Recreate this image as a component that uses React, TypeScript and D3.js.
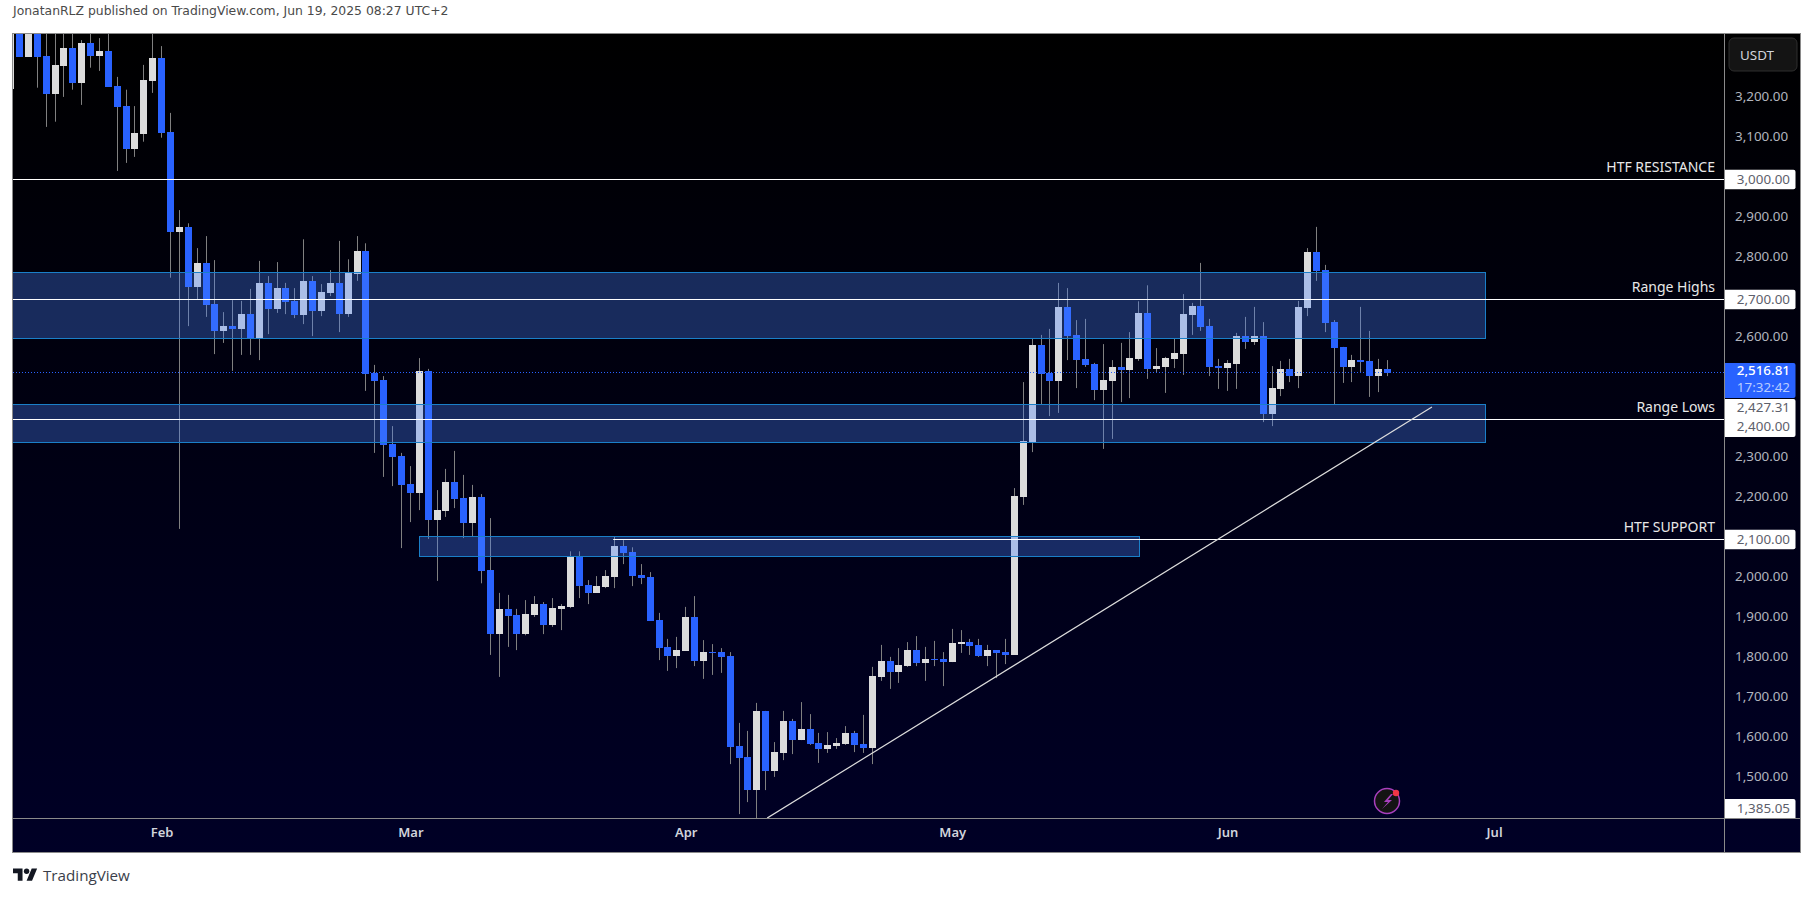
import React, { useRef, useEffect } from 'react';
import * as d3 from 'd3';

// daily candles, first one is Jan 15 (clipped by the left edge of the pane)
const firstDay = new Date(Date.UTC(2025, 0, 15));

const opens = [
  3227, 3400, 3306, 3400, 3308, 3214, 3284, 3328, 3241, 3340,
  3309, 3320, 3234, 3183, 3076, 3114, 3246, 3303, 3118, 2869,
  2880, 2731, 2790, 2688, 2621, 2633, 2626, 2663, 2601, 2741,
  2676, 2728, 2696, 2661, 2746, 2671, 2716, 2741, 2663, 2763,
  2820, 2516, 2498, 2338, 2308, 2238, 2216, 2521, 2148, 2171,
  2243, 2203, 2141, 2206, 2023, 1863, 1926, 1911, 1863, 1911,
  1938, 1886, 1926, 1930, 2058, 1986, 1966, 1981, 2005, 2083,
  2068, 2010, 2005, 1898, 1831, 1808, 1821, 1906, 1796, 1818,
  1818, 1808, 1583, 1556, 1473, 1671, 1521, 1566, 1646, 1598,
  1626, 1591, 1576, 1583, 1588, 1616, 1588, 1578, 1756, 1796,
  1768, 1783, 1823, 1791, 1801, 1801, 1793, 1838, 1843, 1836,
  1808, 1823, 1818, 1811, 2205, 2343, 2586, 2516, 2496, 2681,
  2611, 2551, 2538, 2473, 2496, 2531, 2523, 2551, 2665, 2526,
  2531, 2551, 2563, 2661, 2683, 2633, 2533, 2528, 2538, 2608,
  2593, 2608, 2413, 2476, 2526, 2508, 2678, 2818, 2773, 2643,
  2581, 2531, 2548, 2546, 2508, 2526,
];
const highs = [
  3420, 3420, 3420, 3420, 3380, 3370, 3375, 3375, 3348, 3375,
  3353, 3375, 3256, 3224, 3183, 3286, 3380, 3333, 3166, 2923,
  2890, 2828, 2858, 2798, 2668, 2698, 2696, 2726, 2796, 2758,
  2793, 2741, 2728, 2850, 2758, 2738, 2773, 2846, 2800, 2858,
  2840, 2536, 2508, 2383, 2316, 2283, 2553, 2526, 2223, 2276,
  2321, 2261, 2236, 2213, 2153, 1966, 1961, 1926, 1948, 1958,
  1943, 1953, 1938, 2070, 2070, 1998, 2008, 2023, 2106, 2098,
  2080, 2038, 2018, 1916, 1851, 1856, 1931, 1958, 1848, 1838,
  1828, 1818, 1641, 1621, 1691, 1671, 1593, 1671, 1651, 1693,
  1663, 1616, 1618, 1603, 1633, 1621, 1661, 1781, 1836, 1806,
  1828, 1843, 1858, 1831, 1846, 1818, 1876, 1873, 1851, 1851,
  1836, 1823, 1851, 2228, 2493, 2601, 2611, 2626, 2741, 2728,
  2648, 2651, 2541, 2588, 2548, 2591, 2618, 2695, 2735, 2578,
  2556, 2601, 2713, 2691, 2791, 2651, 2551, 2548, 2616, 2656,
  2681, 2643, 2533, 2546, 2551, 2696, 2828, 2881, 2786, 2648,
  2581, 2561, 2681, 2621, 2551, 2548,
];
const lows = [
  3200, 3306, 3306, 3229, 3131, 3144, 3206, 3224, 3186, 3279,
  3271, 3231, 3021, 3041, 3056, 3094, 3216, 3104, 2754, 2126,
  2633, 2700, 2656, 2563, 2591, 2521, 2561, 2561, 2548, 2613,
  2666, 2663, 2653, 2638, 2608, 2658, 2708, 2618, 2656, 2746,
  2471, 2316, 2256, 2233, 2078, 2143, 2173, 2101, 1996, 2156,
  2178, 2103, 2108, 1990, 1811, 1756, 1831, 1823, 1860, 1906,
  1863, 1881, 1873, 1928, 1953, 1938, 1966, 1978, 1978, 2038,
  1983, 1988, 1896, 1798, 1771, 1778, 1821, 1783, 1751, 1761,
  1766, 1538, 1413, 1443, 1385, 1473, 1506, 1548, 1563, 1598,
  1586, 1541, 1566, 1576, 1586, 1568, 1566, 1538, 1746, 1726,
  1741, 1781, 1783, 1746, 1783, 1733, 1793, 1816, 1811, 1806,
  1783, 1753, 1788, 1811, 2186, 2318, 2438, 2408, 2416, 2548,
  2478, 2531, 2448, 2326, 2351, 2443, 2453, 2546, 2501, 2516,
  2466, 2528, 2511, 2611, 2621, 2508, 2476, 2471, 2476, 2576,
  2586, 2393, 2383, 2458, 2493, 2478, 2658, 2746, 2618, 2438,
  2491, 2493, 2516, 2456, 2468, 2508,
];
const closes = [
  3400, 3306, 3400, 3306, 3214, 3286, 3328, 3241, 3340, 3309,
  3320, 3231, 3181, 3076, 3116, 3248, 3303, 3116, 2869, 2881,
  2731, 2790, 2686, 2621, 2633, 2626, 2663, 2601, 2741, 2676,
  2728, 2693, 2661, 2746, 2671, 2718, 2741, 2663, 2766, 2820,
  2513, 2496, 2336, 2306, 2236, 2216, 2521, 2148, 2173, 2243,
  2201, 2141, 2206, 2021, 1863, 1926, 1908, 1863, 1913, 1938,
  1886, 1928, 1933, 2058, 1983, 1966, 1983, 2008, 2083, 2065,
  2008, 2003, 1896, 1828, 1808, 1823, 1906, 1796, 1818, 1815,
  1806, 1581, 1553, 1473, 1671, 1521, 1568, 1646, 1598, 1626,
  1588, 1576, 1586, 1591, 1616, 1586, 1578, 1758, 1796, 1768,
  1786, 1823, 1791, 1801, 1798, 1793, 1841, 1843, 1833, 1808,
  1823, 1816, 1811, 2208, 2346, 2586, 2513, 2496, 2681, 2608,
  2548, 2536, 2473, 2498, 2531, 2523, 2553, 2665, 2526, 2533,
  2553, 2566, 2663, 2683, 2631, 2531, 2528, 2541, 2608, 2593,
  2608, 2413, 2478, 2526, 2508, 2681, 2818, 2770, 2640, 2578,
  2531, 2548, 2543, 2508, 2526, 2516.81,
];

const priceTicks = [3200, 3100, 2900, 2800, 2600, 2300, 2200, 2000, 1900, 1800, 1700, 1600, 1500];
const monthTicks = [
  new Date(Date.UTC(2025, 1, 1)),
  new Date(Date.UTC(2025, 2, 1)),
  new Date(Date.UTC(2025, 3, 1)),
  new Date(Date.UTC(2025, 4, 1)),
  new Date(Date.UTC(2025, 5, 1)),
  new Date(Date.UTC(2025, 6, 1)),
];

// zones: [from day (null = left edge), to day, top price, bottom price]
const zones: [Date | null, Date, number, number][] = [
  [null, new Date(Date.UTC(2025, 5, 30)), 2767, 2603],
  [null, new Date(Date.UTC(2025, 5, 30)), 2437, 2343],
  [new Date(Date.UTC(2025, 2, 2)), new Date(Date.UTC(2025, 4, 22)), 2107, 2057],
];
// horizontal levels: [price, label, from day]
const levels: [number, string, Date | null][] = [
  [3000, 'HTF RESISTANCE', null],
  [2700, 'Range Highs', null],
  [2400, 'Range Lows', null],
  [2100, 'HTF SUPPORT', new Date(Date.UTC(2025, 2, 23, 20))],
];
const trendFrom: [Date, number] = [new Date(Date.UTC(2025, 3, 10, 4)), 1403];
const trendTo: [Date, number] = [new Date(Date.UTC(2025, 5, 24)), 2431];

const lastPrice = 2516.81;
const countdown = '17:32:42';
const rangeLowPrice = 2427.31;
const rangeLowPriceY = 2400;
const periodLow = 1385.05;
const title = 'JonatanRLZ published on TradingView.com, Jun 19, 2025 08:27 UTC+2';

const UP = '#dcdcdc';
const DOWN = '#2962ff';
const WICK = '#808080';
const FONT = '"Noto Sans", sans-serif';

const App: React.FC = () => {
  const svgRef = useRef<SVGSVGElement | null>(null);

  useEffect(() => {
    const svg = d3.select(svgRef.current);
    svg.selectAll('*').remove();

    const pane = { left: 13, right: 1724, top: 34, bottom: 818 };
    const axisRight = 1800;
    const axisBottom = 852;

    const x = d3.scaleUtc()
      .domain([new Date(Date.UTC(2025, 0, 16)), new Date(Date.UTC(2025, 5, 19))])
      .range([19.5, 1387.5]);
    const y = d3.scaleLinear().domain([3000, 1500]).range([179.3, 779.3]);
    const px = (v: number) => Math.floor(v) + 0.5;

    const defs = svg.append('defs');
    const grad = defs.append('linearGradient').attr('id', 'bg')
      .attr('x1', 0).attr('x2', 0).attr('y1', 0).attr('y2', 1);
    grad.append('stop').attr('offset', '0%').attr('stop-color', '#000000');
    grad.append('stop').attr('offset', '100%').attr('stop-color', '#000026');
    defs.append('clipPath').attr('id', 'pane').append('rect')
      .attr('x', pane.left).attr('y', pane.top)
      .attr('width', pane.right - pane.left).attr('height', pane.bottom - pane.top);

    svg.append('text').attr('x', 13).attr('y', 15)
      .attr('font-family', '"DejaVu Sans", sans-serif').attr('font-size', 12.4)
      .attr('fill', '#4a4a4a').text(title);

    svg.append('rect').attr('x', pane.left).attr('y', pane.top)
      .attr('width', axisRight - pane.left).attr('height', axisBottom - pane.top)
      .attr('fill', 'url(#bg)');

    const plot = svg.append('g').attr('clip-path', 'url(#pane)');

    // candles
    opens.forEach((open, i) => {
      const day = d3.utcDay.offset(firstDay, i);
      const cx = Math.floor(x(day));
      const up = closes[i] >= open;
      plot.append('line')
        .attr('x1', cx + 0.5).attr('x2', cx + 0.5)
        .attr('y1', y(highs[i])).attr('y2', y(lows[i]))
        .attr('stroke', WICK).attr('stroke-width', 1);
      const top = Math.round(y(Math.max(open, closes[i])));
      const bottom = Math.round(y(Math.min(open, closes[i])));
      plot.append('rect')
        .attr('x', cx - 3).attr('width', 7)
        .attr('y', top).attr('height', Math.max(bottom - top, 1))
        .attr('fill', up ? UP : DOWN);
    });

    // zones sit over the candles
    zones.forEach(([from, to, hi, lo]) => {
      const x0 = from ? x(from) : pane.left - 2;
      plot.append('rect')
        .attr('x', px(x0)).attr('y', px(y(hi)))
        .attr('width', Math.round(x(to) - x0)).attr('height', Math.round(y(lo) - y(hi)))
        .attr('fill', 'rgba(72,132,255,0.33)')
        .attr('stroke', '#1a7fc8').attr('stroke-width', 1);
    });

    // dotted last price line
    plot.append('line')
      .attr('x1', pane.left).attr('x2', pane.right)
      .attr('y1', px(y(lastPrice))).attr('y2', px(y(lastPrice)))
      .attr('stroke', DOWN).attr('stroke-width', 1).attr('stroke-dasharray', '1 2');

    levels.forEach(([price, label, from]) => {
      plot.append('line')
        .attr('x1', from ? x(from) : pane.left).attr('x2', pane.right)
        .attr('y1', px(y(price))).attr('y2', px(y(price)))
        .attr('stroke', '#ffffff').attr('stroke-width', 1);
      plot.append('text')
        .attr('x', 1715).attr('y', y(price) - 7.5)
        .attr('text-anchor', 'end')
        .attr('font-family', FONT).attr('font-size', 14)
        .attr('fill', '#e8e8e8').text(label);
    });

    plot.append('line')
      .attr('x1', x(trendFrom[0])).attr('y1', y(trendFrom[1]))
      .attr('x2', x(trendTo[0])).attr('y2', y(trendTo[1]))
      .attr('stroke', '#dddddd').attr('stroke-width', 1.2);

    // lightning icon
    const icon = svg.append('g').attr('transform', 'translate(1387,801)');
    icon.append('circle').attr('r', 12.5).attr('fill', '#141414')
      .attr('stroke', '#a83fbd').attr('stroke-width', 1.5);
    icon.append('path').attr('d', 'M4 -7 L-3 1 L1 1 L-5 8 L5 -1 L1 -1 L6 -7 Z').attr('fill', '#a83fbd');
    icon.append('circle').attr('cx', 9).attr('cy', -8).attr('r', 3.2).attr('fill', '#f23645');

    // frame and pane separators
    const frame = svg.append('g').attr('stroke', '#8a8a8a').attr('stroke-width', 1).attr('fill', 'none');
    frame.append('rect')
      .attr('x', pane.left - 0.5).attr('y', pane.top - 0.5)
      .attr('width', axisRight - pane.left + 1).attr('height', axisBottom - pane.top + 1);
    frame.append('line').attr('x1', pane.left).attr('x2', axisRight)
      .attr('y1', pane.bottom + 0.5).attr('y2', pane.bottom + 0.5);
    frame.append('line').attr('x1', pane.right + 0.5).attr('x2', pane.right + 0.5)
      .attr('y1', pane.top).attr('y2', axisBottom);

    // price axis
    const yAxis = svg.append('g')
      .attr('transform', `translate(${pane.right + 11},0)`)
      .call(d3.axisRight(y).tickValues(priceTicks).tickSize(0).tickPadding(0)
        .tickFormat(d3.format(',.2f') as any));
    yAxis.select('.domain').remove();
    yAxis.selectAll('text')
      .attr('dy', '0.12em')
      .attr('font-family', FONT).attr('font-size', 13.4).attr('fill', '#b2b5be');

    // time axis
    const xAxis = svg.append('g')
      .attr('transform', `translate(0,${pane.bottom + 10})`)
      .call(d3.axisBottom(x).tickValues(monthTicks).tickSize(0).tickPadding(0)
        .tickFormat(d3.utcFormat('%b') as any));
    xAxis.select('.domain').remove();
    xAxis.selectAll('text')
      .attr('font-family', FONT).attr('font-size', 13).attr('font-weight', 600).attr('fill', '#d1d4dc');

    // USDT button
    svg.append('rect').attr('x', 1729).attr('y', 38).attr('width', 68).attr('height', 33).attr('rx', 5)
      .attr('fill', '#141414').attr('stroke', '#2e2e2e');
    svg.append('text').attr('x', 1740).attr('y', 60)
      .attr('font-family', FONT).attr('font-size', 13.4).attr('fill', '#d1d4dc').text('USDT');

    // price labels on the axis
    const priceTag = (price: number, cy: number) => {
      svg.append('text')
        .attr('x', 1790).attr('y', cy + 4.6).attr('text-anchor', 'end')
        .attr('font-family', FONT).attr('font-size', 13.4).attr('fill', '#5d606b')
        .text(d3.format(',.2f')(price));
    };
    const tagBox = (top: number, bottom: number) => {
      svg.append('path')
        .attr('d', `M${pane.right + 1} ${top} H1793.5 Q1795.5 ${top} 1795.5 ${top + 2} V${bottom - 2} Q1795.5 ${bottom} 1793.5 ${bottom} H${pane.right + 1} Z`)
        .attr('fill', '#ffffff');
    };
    [3000, 2700, 2100].forEach(price => {
      const cy = y(price);
      tagBox(cy - 9.5, cy + 10);
      priceTag(price, cy);
    });
    tagBox(399, 437);
    priceTag(rangeLowPrice, 407.5);
    priceTag(rangeLowPriceY, 426);
    svg.append('path')
      .attr('d', `M${pane.right + 1} 799 H1793.5 Q1795.5 799 1795.5 801 V818 H${pane.right + 1} Z`)
      .attr('fill', '#ffffff');
    priceTag(periodLow, 808);

    // last price tag
    svg.append('path')
      .attr('d', `M${pane.right + 1} 363 H1793.5 Q1795.5 363 1795.5 365 V396 Q1795.5 398 1793.5 398 H${pane.right + 1} Z`)
      .attr('fill', DOWN);
    svg.append('text').attr('x', 1790).attr('y', 375).attr('text-anchor', 'end')
      .attr('font-family', FONT).attr('font-size', 13.4).attr('font-weight', 500).attr('fill', '#ffffff')
      .text(d3.format(',.2f')(lastPrice));
    svg.append('text').attr('x', 1790).attr('y', 392).attr('text-anchor', 'end')
      .attr('font-family', FONT).attr('font-size', 13.4).attr('fill', '#b8ccff')
      .text(countdown);

    // footer logo
    const logo = svg.append('g').attr('transform', 'translate(13,868.5) scale(0.68)').attr('fill', '#131722');
    logo.append('path').attr('d', 'M14 22H7V11H0V4h14v18zM28 22h-8l7.5-18h8L28 22z').attr('transform', 'translate(0,-4)');
    logo.append('circle').attr('cx', 20).attr('cy', 4).attr('r', 4);
    svg.append('text').attr('x', 43).attr('y', 881)
      .attr('font-family', '"Open Sans", sans-serif').attr('font-size', 15.2).attr('fill', '#3a3e4a')
      .text('TradingView');
  }, []);

  return (
    <svg
      ref={svgRef}
      width={1814}
      height={897}
      style={{ position: 'absolute', top: 0, left: 0, background: '#ffffff' }}
    />
  );
};

export default App;
